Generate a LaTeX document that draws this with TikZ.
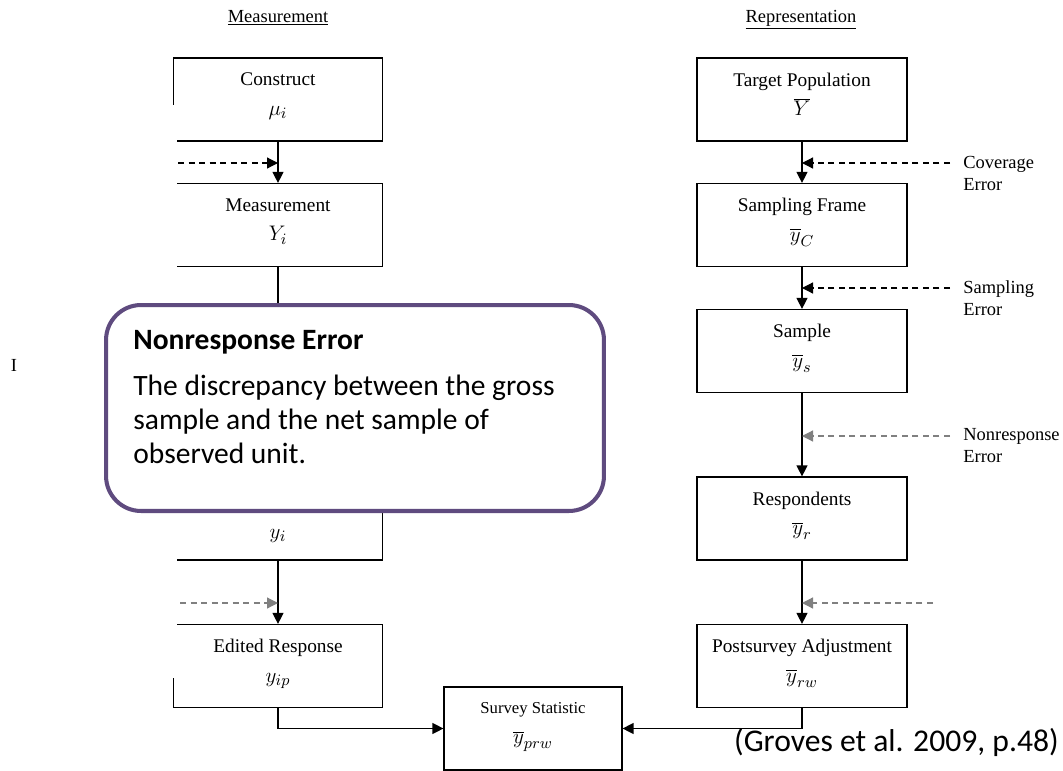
\documentclass[tikz,border=0pt]{standalone}
\usepackage{fontspec}
\setmainfont{Liberation Serif}
\newfontfamily\calibri{Carlito}
\usepackage{xcolor}
\usepackage{tikz}
\usetikzlibrary{arrows.meta}
\definecolor{calloutpurple}{RGB}{95,75,127}
\definecolor{errgray}{RGB}{128,128,128}
\newcommand{\mathline}[1]{{\fontsize{13}{16}\selectfont$#1$}}

\begin{document}
\begin{tikzpicture}[x=0.02cm, y=-0.02cm,
			>={Triangle[length=2.2mm,width=2.2mm]},
			box/.style={draw, line width=0.7pt, minimum width=4.18cm, minimum height=1.66cm,
				inner sep=0pt, align=center, text depth=6pt, font=\fontsize{11}{17}\selectfont},
			flow/.style={->, line width=0.7pt},
			errflow/.style={->, line width=0.7pt, dash pattern=on 3.4pt off 2.6pt},
			errlabel/.style={anchor=west, align=left, inner sep=0pt, font=\fontsize{10.5}{12.5}\selectfont},
			head/.style={anchor=base, font=\fontsize{10.5}{12}\selectfont}]

			\useasboundingbox (0,0) rectangle (1063,771);

			% column headings
			\node[head] (hmeas) at (278,22) {\underline{Measurement}};
			\node[head] (hrep) at (801,22) {\underline{Representation}};

			% measurement side
			\node[box] (con) at (278,99.5) {Construct\\\mathline{\mu_i}};
			\node[box] (meas) at (278,225) {Measurement\\\mathline{Y_i}};
			\node[box] (resp) at (278,518.5) {\strut\\\mathline{y_i}};
			\node[box] (edit) at (278,666) {Edited Response\\\mathline{y_{ip}}};

			% representation side
			\node[box, minimum width=4.2cm] (tp) at (802,99.5) {Target Population\\\mathline{\overline{Y}}};
			\node[box, minimum width=4.2cm] (sf) at (802,225) {Sampling Frame\\\mathline{\overline{y}_C}};
			\node[box, minimum width=4.2cm] (samp) at (802,351) {Sample\\\mathline{\overline{y}_s}};
			\node[box, minimum width=4.2cm] (rsp) at (802,518.5) {Respondents\\\mathline{\overline{y}_r}};
			\node[box, minimum width=4.2cm] (adj) at (802,666) {Postsurvey Adjustment\\\mathline{\overline{y}_{rw}}};

			% result
			\node[box, minimum width=3.56cm, font=\fontsize{9.5}{17}\selectfont] (stat) at (533,728.5) {Survey Statistic\\\mathline{\overline{y}_{prw}}};

			% main flow
			\draw[flow] (con) -- (meas);
			\draw[flow] (meas) -- (resp);
			\draw[flow] (resp) -- (edit);
			\draw[flow] (tp) -- (sf);
			\draw[flow] (sf) -- (samp);
			\draw[flow] (samp) -- (rsp);
			\draw[flow] (rsp) -- (adj);
			\draw[flow] (edit.south) |- (stat.west);
			\draw[flow] (adj.south) |- (stat.east);

			% left part of the page is blanked out
			\fill[white] (0,105) rectangle (176.5,678);
			\node[inner sep=0pt, font=\fontsize{10.5}{12}\selectfont] (frag) at (14,365) {I};

			% error sources
			\coordinate (mcon) at (178,163);
			\coordinate (mproc) at (180,603);
			\coordinate (ecov) at (950,163);
			\coordinate (esamp) at (950,288);
			\coordinate (enr) at (950,436);
			\coordinate (eadj) at (933,603);
			\draw[errflow] (mcon) -- (mcon -| con.south);
			\draw[errflow, errgray] (mproc) -- (mproc -| edit.north);
			\draw[errflow] (ecov) -- (ecov -| tp.south);
			\draw[errflow] (esamp) -- (esamp -| sf.south);
			\draw[errflow, errgray] (enr) -- (enr -| samp.south);
			\draw[errflow, errgray] (eadj) -- (eadj -| rsp.south);
			\node[errlabel] (lcov) at (963,173) {Coverage\\Error};
			\node[errlabel] (lsamp) at (963,298) {Sampling\\Error};
			\node[errlabel] (lnr) at (963,446) {Nonresponse\\Error};

			% call-out
			\node[draw=calloutpurple, line width=2.3pt, fill=white, rounded corners=0.7cm,
				minimum width=9.96cm, minimum height=4.12cm] (nrbox) at (355,408) {};
			\node[anchor=north west, align=left, inner sep=0pt,
				font=\calibri\fontsize{16.8}{19.4}\selectfont] (nrtext) at (133,330)
				{\textbf{Nonresponse Error}\\[6.5pt]The discrepancy between the gross\\sample and the net sample of\\observed unit.};

			% source
			\node[anchor=east, inner sep=0pt, font=\calibri\fontsize{18}{21}\selectfont] (src) at (1059,742) {(Groves et al. 2009, p.48)};
		\end{tikzpicture}
\end{document}
